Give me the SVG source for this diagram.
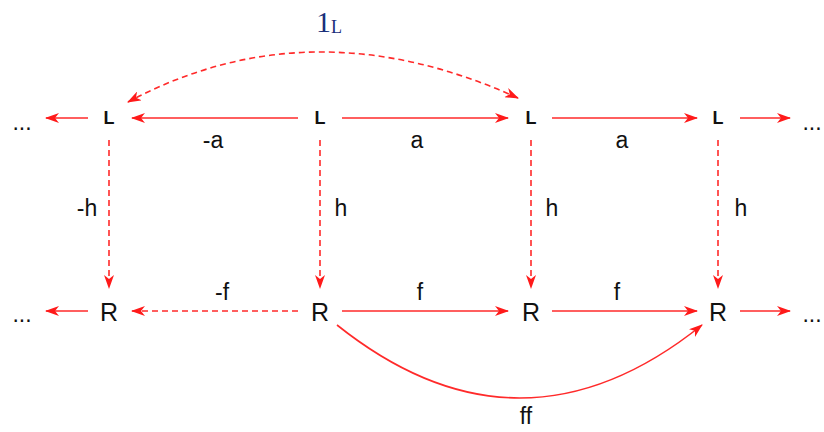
<svg xmlns="http://www.w3.org/2000/svg" width="824" height="432" viewBox="0 0 824 432">
<defs>
<marker id="ah" viewBox="0 0 14 10" refX="13" refY="5" markerWidth="14" markerHeight="10" markerUnits="userSpaceOnUse" orient="auto-start-reverse">
<path d="M0,0 L14,5 L0,10 L4,5 z" fill="#ff1a1a"/>
</marker>
</defs>
<style>
.c{fill:none;stroke:#ff2a2a;stroke-width:1.6}
.d{stroke-dasharray:6,4}
.nl{font-family:"Liberation Sans",Arial,sans-serif;font-size:18px;font-weight:bold;fill:#111;text-anchor:middle}
.nr{font-family:"Liberation Sans",Arial,sans-serif;font-size:25px;fill:#111;text-anchor:middle}
.lb{font-family:"Liberation Sans",Arial,sans-serif;font-size:23px;fill:#111;text-anchor:middle}
</style>
<rect width="824" height="432" fill="#fff"/>
<g id="connectors">
<line class="c" x1="88" y1="118" x2="46" y2="118" marker-end="url(#ah)"/>
<line class="c" x1="298" y1="118" x2="132" y2="118" marker-end="url(#ah)"/>
<line class="c" x1="342" y1="118" x2="508" y2="118" marker-end="url(#ah)"/>
<line class="c" x1="552" y1="118" x2="697" y2="118" marker-end="url(#ah)"/>
<line class="c" x1="740" y1="118" x2="790" y2="118" marker-end="url(#ah)"/>
<path class="c d" d="M518,98 Q311,4 128,102" marker-start="url(#ah)" marker-end="url(#ah)"/>
<line class="c d" x1="109" y1="140" x2="109" y2="288" marker-end="url(#ah)"/>
<line class="c d" x1="320" y1="140" x2="320" y2="288" marker-end="url(#ah)"/>
<line class="c d" x1="531" y1="140" x2="531" y2="288" marker-end="url(#ah)"/>
<line class="c d" x1="718" y1="140" x2="718" y2="288" marker-end="url(#ah)"/>
<line class="c" x1="88" y1="311" x2="46" y2="311" marker-end="url(#ah)"/>
<line class="c d" x1="298" y1="311" x2="132" y2="311" marker-end="url(#ah)"/>
<line class="c" x1="342" y1="311" x2="508" y2="311" marker-end="url(#ah)"/>
<line class="c" x1="552" y1="311" x2="697" y2="311" marker-end="url(#ah)"/>
<line class="c" x1="740" y1="311" x2="790" y2="311" marker-end="url(#ah)"/>
<path class="c" d="M337,325 Q520,471 702,325" marker-end="url(#ah)"/>
</g>
<g id="labels">
<text class="lb" x="213" y="148">-a</text>
<text class="lb" x="417" y="148">a</text>
<text class="lb" x="622" y="148">a</text>
<text class="lb" x="87" y="216">-h</text>
<text class="lb" x="341" y="216">h</text>
<text class="lb" x="552" y="216">h</text>
<text class="lb" x="741" y="216">h</text>
<text class="lb" x="222" y="300">-f</text>
<text class="lb" x="420" y="300">f</text>
<text class="lb" x="617" y="300">f</text>
<text class="lb" x="526" y="424">ff</text>
<text x="316" y="32" font-family="'Liberation Serif','DejaVu Serif',serif" font-size="30" fill="#1a2f7a">1<tspan font-size="18" dy="1">L</tspan></text>
</g>
<g id="ellipsis-left-top"><text class="lb" x="22" y="130">...</text></g>
<g id="ellipsis-right-top"><text class="lb" x="812" y="130">...</text></g>
<g id="ellipsis-left-bot"><text class="lb" x="22" y="322">...</text></g>
<g id="ellipsis-right-bot"><text class="lb" x="812" y="322">...</text></g>
<g id="L1"><text class="nl" x="109" y="124">L</text></g>
<g id="L2"><text class="nl" x="320" y="124">L</text></g>
<g id="L3"><text class="nl" x="531" y="124">L</text></g>
<g id="L4"><text class="nl" x="718" y="124">L</text></g>
<g id="R1"><text class="nr" x="109" y="321">R</text></g>
<g id="R2"><text class="nr" x="320" y="321">R</text></g>
<g id="R3"><text class="nr" x="531" y="321">R</text></g>
<g id="R4"><text class="nr" x="718" y="321">R</text></g>
</svg>
